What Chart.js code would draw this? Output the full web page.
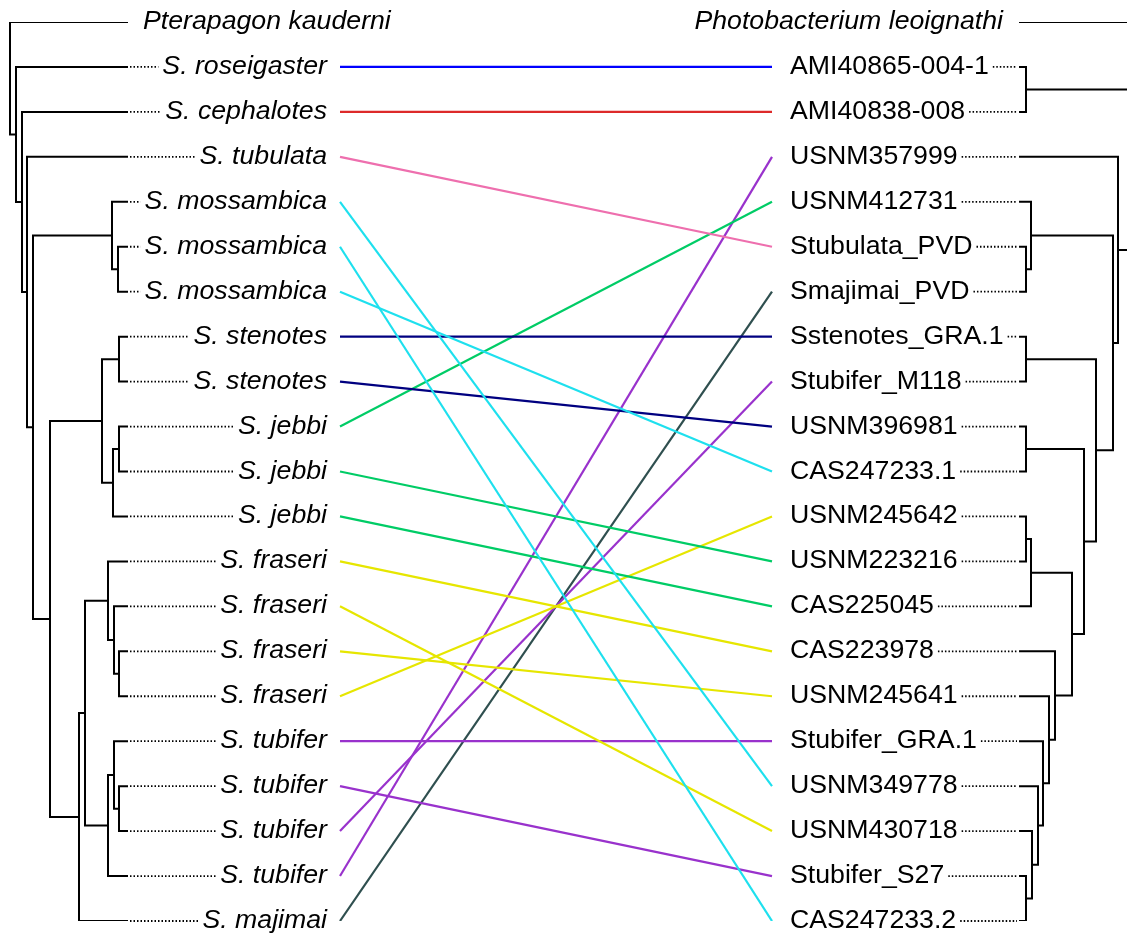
<!DOCTYPE html>
<html>
<head>
<meta charset="utf-8">
<script src="https://cdn.jsdelivr.net/npm/chart.js@4.4.0/dist/chart.umd.min.js"></script>
<style>
  html, body { margin: 0; padding: 0; background: #fff; }
  #wrap { width: 1127px; height: 934px; position: relative; }
</style>
</head>
<body>
<div id="wrap"><canvas id="chart"></canvas></div>
<script>
// tip labels, one per row (row 0 = outgroup)
const leftLabels = [
  'Pterapagon kauderni', 'S. roseigaster', 'S. cephalotes', 'S. tubulata',
  'S. mossambica', 'S. mossambica', 'S. mossambica', 'S. stenotes', 'S. stenotes',
  'S. jebbi', 'S. jebbi', 'S. jebbi', 'S. fraseri', 'S. fraseri', 'S. fraseri',
  'S. fraseri', 'S. tubifer', 'S. tubifer', 'S. tubifer', 'S. tubifer', 'S. majimai'
];
const rightLabels = [
  'Photobacterium leoignathi', 'AMI40865-004-1', 'AMI40838-008', 'USNM357999',
  'USNM412731', 'Stubulata_PVD', 'Smajimai_PVD', 'Sstenotes_GRA.1', 'Stubifer_M118',
  'USNM396981', 'CAS247233.1', 'USNM245642', 'USNM223216', 'CAS225045', 'CAS223978',
  'USNM245641', 'Stubifer_GRA.1', 'USNM349778', 'USNM430718', 'Stubifer_S27', 'CAS247233.2'
];

// trees: [node depth, child, child], numbers = tip rows
const leftTree = [117, 0, [111, 1, [105, 2, [100, 3, [94,
  [15, 4, [9, 5, 6]],
  [77,
    [25, [8, 7, 8], [14, [8, 9, 10], 11]],
    [48,
      [42,
        [19, 12, [13, 13, [8, 14, 15]]],
        [19, [13, 16, [8, 17, 18]], 19]],
      20]]]]]]];
const rightTree = [125, 0, [118, [6, 1, 2], [98, 3, [93,
  [11, 4, [6, 5, 6]],
  [76, [6, 7, 8],
    [64, [6, 9, 10],
      [52, [11, [6, 11, 12], 13],
        [35, 14, [29, 15, [23, 16, [18, 17, [12, 18, [6, 19, 20]]]]]]]]]]]]];

// host -> symbiont associations
const linkFrom = [1, 2, 3, 4, 5, 6, 7, 8, 9, 10, 11, 12, 13, 14, 15, 16, 17, 18, 19, 20];
const linkTo   = [1, 2, 5, 17, 20, 10, 7, 9, 4, 12, 13, 14, 18, 15, 11, 16, 19, 8, 3, 6];
const linkColors = [
  '#0000ff', '#dd2a2a', '#ee6fae', '#1ee0ee', '#1ee0ee', '#1ee0ee', '#000080', '#000080',
  '#00cc66', '#00cc66', '#00cc66', '#e6e600', '#e6e600', '#e6e600', '#e6e600',
  '#9932cc', '#9932cc', '#9932cc', '#9932cc', '#2f4f4f'
];

// layout
const leftTipX = 127, rightTipX = 1020;
const leftLinkX = 340, rightLinkX = 772;
const leftLabelEnd = 327, rightLabelStart = 790;
const FONT = '"Liberation Sans", Arial, sans-serif';
const FSIZE = 26.7;

function layout(node, tipX, dir, out) {
  if (typeof node === 'number') return { x: tipX, y: node };
  const a = layout(node[1], tipX, dir, out);
  const b = layout(node[2], tipX, dir, out);
  const x = tipX + dir * node[0];
  const y = (a.y + b.y) / 2;
  out.push([{ x: a.x, y: a.y }, { x: x, y: a.y }, { x: x, y: b.y }, { x: b.x, y: b.y }]);
  return { x: x, y: y };
}

const branches = [];
layout(leftTree, leftTipX, -1, branches);
layout(rightTree, rightTipX, 1, branches);

const datasets = [];
branches.forEach(pts => {
  datasets.push({ data: pts, showLine: true, borderColor: '#000', borderWidth: 2,
    pointRadius: 0, tension: 0, borderJoinStyle: 'miter', borderCapStyle: 'square' });
});
linkFrom.forEach((l, i) => {
  datasets.push({ data: [{ x: leftLinkX, y: l }, { x: rightLinkX, y: linkTo[i] }],
    showLine: true, borderColor: linkColors[i], borderWidth: 2.2, pointRadius: 0 });
});

const labelPlugin = {
  id: 'tipLabels',
  afterDatasetsDraw(chart) {
    const ctx = chart.ctx;
    const xs = chart.scales.x, ys = chart.scales.y;
    const lt = xs.getPixelForValue(leftTipX), rt = xs.getPixelForValue(rightTipX);
    ctx.save();
    ctx.fillStyle = '#000';
    ctx.textBaseline = 'alphabetic';
    const dotted = (x1, x2, y) => {
      if (x2 - x1 < 2) return;
      ctx.save();
      ctx.strokeStyle = '#000';
      ctx.lineWidth = 1.8;
      ctx.setLineDash([1.5, 2]);
      ctx.beginPath();
      ctx.moveTo(x1, y);
      ctx.lineTo(x2, y);
      ctx.stroke();
      ctx.restore();
    };
    leftLabels.forEach((t, r) => {
      const y = ys.getPixelForValue(r);
      ctx.font = 'italic ' + FSIZE + 'px ' + FONT;
      if (r === 0) {
        ctx.textAlign = 'left';
        ctx.fillText(t, lt + 16, y + 7);
        return;
      }
      ctx.textAlign = 'right';
      const end = xs.getPixelForValue(leftLabelEnd);
      const w = ctx.measureText(t).width;
      ctx.fillText(t, end, y + 7);
      dotted(lt + 3, end - w - 4, y);
    });
    rightLabels.forEach((t, r) => {
      const y = ys.getPixelForValue(r);
      if (r === 0) {
        ctx.font = 'italic ' + FSIZE + 'px ' + FONT;
        ctx.textAlign = 'right';
        ctx.fillText(t, rt - 17, y + 7);
        return;
      }
      ctx.font = FSIZE + 'px ' + FONT;
      ctx.textAlign = 'left';
      const start = xs.getPixelForValue(rightLabelStart);
      const w = ctx.measureText(t).width;
      ctx.fillText(t, start, y + 7);
      dotted(start + w + 4, rt - 3, y);
    });
    ctx.restore();
  }
};

new Chart(document.getElementById('chart'), {
  type: 'scatter',
  data: { datasets: datasets },
  options: {
    responsive: true,
    maintainAspectRatio: false,
    animation: false,
    layout: { padding: { top: 22, bottom: 13, left: 0, right: 0 } },
    plugins: { legend: { display: false }, tooltip: { enabled: false } },
    scales: {
      x: { type: 'linear', min: 0, max: 1127, display: false },
      y: { type: 'linear', min: 0, max: 20, reverse: true, display: false }
    }
  },
  plugins: [labelPlugin]
});
</script>
</body>
</html>
